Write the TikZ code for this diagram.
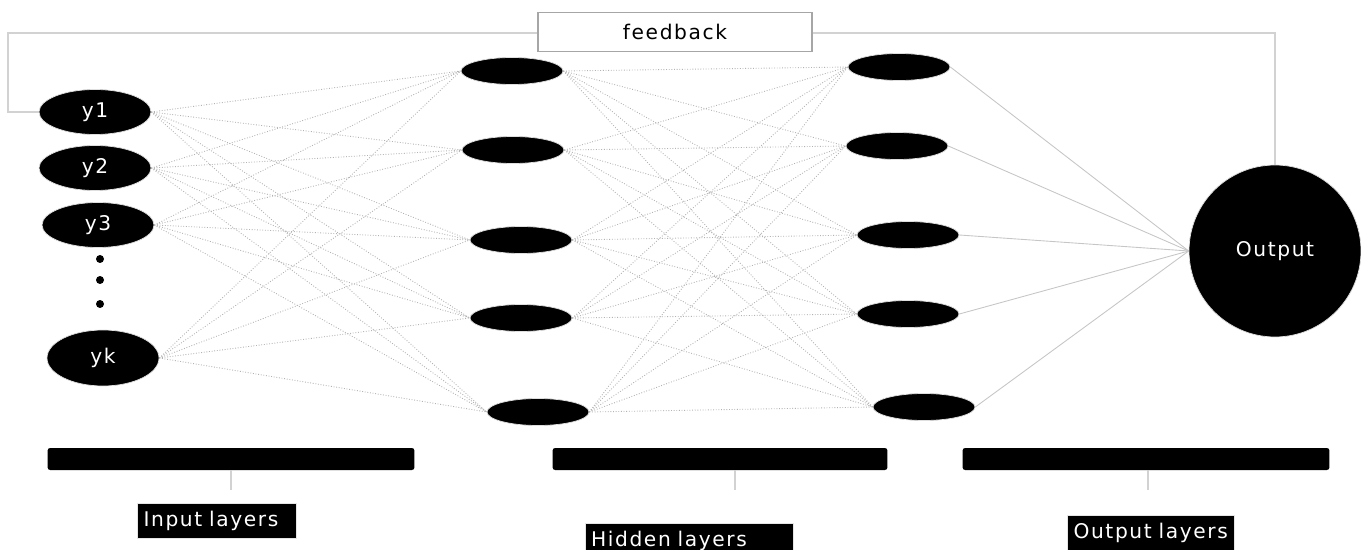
\documentclass[tikz,border=0pt]{standalone}
\usepackage{fontspec}
\newfontfamily\lblfont[LetterSpace=8]{DejaVu Sans}
\usetikzlibrary{shapes.geometric}
\newcommand{\lbl}{\lblfont\fontsize{11.5}{13}\selectfont}
\tikzset{
  innode/.style={ellipse, fill=black, draw=gray!25, minimum width=2.24cm, minimum height=0.9cm, text=white, font=\lbl},
  hidnode/.style={ellipse, fill=black, draw=gray!25, minimum width=2.04cm, minimum height=0.54cm},
  outnode/.style={circle, fill=black, draw=gray!25, minimum size=3.44cm, text=white, font=\lbl},
  link/.style={gray!60, densely dotted, line width=0.5pt},
  fbline/.style={gray!35, line width=0.9pt},
  layerbar/.style={fill=black, rounded corners=1.5pt, minimum height=0.44cm, inner sep=0pt},
  barmark/.style={gray!35, line width=0.8pt},
  lblbox/.style={fill=black, draw=gray!20, text=white, font=\lbl, align=left, inner xsep=0.12cm, inner ysep=0.15cm, anchor=center}
}
\begin{document}
\begin{tikzpicture}[x=0.02cm, y=-0.02cm]
  \useasboundingbox (0,0) rectangle (1361,550);

  % input layer
  \node[innode] (y1) at (95,112) {y1};
  \node[innode] (y2) at (95,168) {y2};
  \node[innode] (y3) at (98,225) {y3};
  \node[innode, minimum height=1.12cm] (yk) at (103,358) {yk};
  \foreach \py in {259,280,304}
    \fill (100,\py) circle (0.08cm);

  % hidden layers
  \node[hidnode] (a1) at (512,71) {};
  \node[hidnode] (a2) at (513,150) {};
  \node[hidnode] (a3) at (521,240) {};
  \node[hidnode] (a4) at (521,318) {};
  \node[hidnode] (a5) at (538,412) {};

  \node[hidnode] (b1) at (899,67) {};
  \node[hidnode] (b2) at (897,146) {};
  \node[hidnode] (b3) at (908,235) {};
  \node[hidnode] (b4) at (908,314) {};
  \node[hidnode] (b5) at (924,407) {};

  % output
  \node[outnode] (out) at (1275,251) {Output};

  % connections
  \foreach \i in {y1,y2,y3,yk}
    \foreach \j in {a1,a2,a3,a4,a5}
      \draw[link] (\i.east) -- (\j.west);
  \foreach \i in {a1,a2,a3,a4,a5}
    \foreach \j in {b1,b2,b3,b4,b5}
      \draw[link] (\i.east) -- (\j.west);
  \foreach \j in {b1,b2,b3,b4,b5}
    \draw[link, solid, gray!45] (\j.east) -- (out.west);

  % feedback loop
  \coordinate (fbleft) at (8,33);
  \draw[fbline] (out.north) |- (fbleft) |- (y1.west);
  \node[fill=white, draw=gray!70, line width=1pt, minimum width=5.48cm, minimum height=0.78cm,
        font=\lbl] (fb) at (675,32) {feedback};

  % layer bars
  \node[layerbar, minimum width=7.34cm] (inbar) at (231,459) {};
  \node[layerbar, minimum width=6.7cm] (hidbar) at (720,459) {};
  \node[layerbar, minimum width=7.34cm] (outbar) at (1146,459) {};
  \coordinate (intick) at (231,490);
  \coordinate (hidtick) at (735,490);
  \coordinate (outtick) at (1148,490);
  \draw[barmark] (inbar.south) -- (intick);
  \draw[barmark] (hidbar.south -| hidtick) -- (hidtick);
  \draw[barmark] (outbar.south -| outtick) -- (outtick);

  % layer labels
  \node[lblbox, text width=2.94cm] (inlabel) at (217,521) {Input layers};
  \node[lblbox, text width=3.92cm] (hidlabel) at (689,541) {Hidden layers};
  \node[lblbox, text width=3.1cm] (outlabel) at (1151,533) {Output layers};
\end{tikzpicture}
\end{document}
